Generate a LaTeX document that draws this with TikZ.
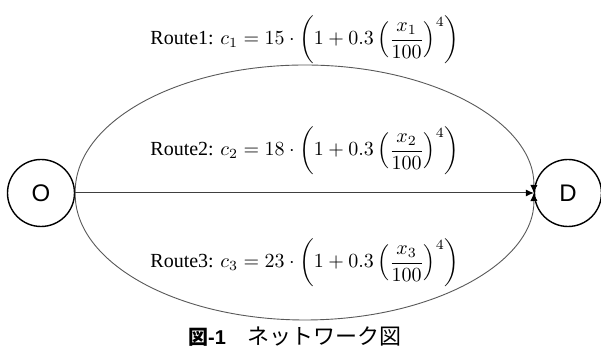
\documentclass[tikz,border=0pt]{standalone}
\usepackage{amsmath}
\usepackage{fontspec}
\setmainfont{Liberation Serif}
\setsansfont{Liberation Sans}
\newfontfamily\jpfont{Noto Sans CJK JP}
\usetikzlibrary{arrows.meta}

\begin{document}
\begin{tikzpicture}[
    x=0.5pt, y=-0.5pt,
    every node/.style={font=\normalsize},
    place/.style={
        draw,
        circle,
        line width=0.7pt,
        minimum size=33.5pt,
        inner sep=0pt,
        font=\sffamily\large
    },
    route/.style={-{Latex[length=4pt,width=3.6pt,color=black]}, line width=0.45pt, draw=black!65},
    straight/.style={-{Latex[length=4pt,width=3.6pt,color=black]}, line width=0.5pt, draw=black!75}
]
\useasboundingbox (0,0) rectangle (601,356);

\node[place] (o) at (41,193) {O};
\node[place] (d) at (568,193) {D};
\coordinate (top) at (305,65);
\coordinate (bot) at (305,320);

% upper and lower routes
\draw[route] (o.east) .. controls (74,122) and (178,65) .. (top)
    .. controls (432,65) and (535,122) .. (d.west);
\draw[straight] (o) -- (d);
\draw[route] (o.east) .. controls (74,263) and (178,320) .. (bot)
    .. controls (432,320) and (535,263) .. (d.west);

\node (r1) at (305,40) {Route1: $c_1 = 15\cdot\left(1+0.3\left(\dfrac{x_1}{100}\right)^4\right)$};
\node (r2) at (305,151) {Route2: $c_2 = 18\cdot\left(1+0.3\left(\dfrac{x_2}{100}\right)^4\right)$};
\node (r3) at (305,263) {Route3: $c_3 = 23\cdot\left(1+0.3\left(\dfrac{x_3}{100}\right)^4\right)$};

\node (cap) at (295,337) {{\jpfont\bfseries 図}{\sffamily\bfseries -1}\hspace{11pt}{\jpfont\fontsize{11}{13}\selectfont ネットワーク図}};

\end{tikzpicture}
\end{document}
